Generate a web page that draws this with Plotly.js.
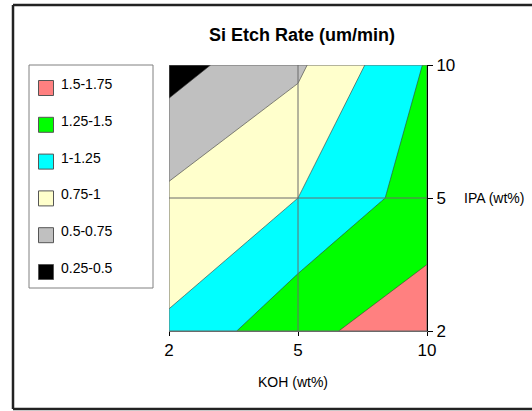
<!DOCTYPE html>
<html>
<head>
<meta charset="utf-8">
<script src="https://cdn.plot.ly/plotly-3.0.1.min.js"></script>
<style>
  html, body { margin: 0; padding: 0; background: #ffffff; overflow: hidden; }
  #chart { width: 532px; height: 411px; }
</style>
</head>
<body>
<div id="chart"></div>
<script>
// ---- data ----
const kohLabels = ['2', '5', '10'];          // KOH (wt%) categories
const ipaLabels = ['2', '5', '10'];          // IPA (wt%) categories
// etch rate (um/min): one row per IPA value, one column per KOH value
const rateIpa2  = [1.04, 1.44, 1.63];
const rateIpa5  = [0.80, 1.00, 1.37];
const rateIpa10 = [0.40, 0.71, 1.27];
// contour bands (legend order: highest first)
const bandLabels = ['1.5-1.75', '1.25-1.5', '1-1.25', '0.75-1', '0.5-0.75', '0.25-0.5'];
const bandColors = ['#ff8080', '#00ff00', '#00ffff', '#ffffcc', '#c0c0c0', '#000000'];
const levelStart = 0.25, levelEnd = 1.75, levelSize = 0.25;

// ---- layout geometry ----
const W = 532, H = 411;
const M = { l: 169, r: 105, t: 65, b: 80 };
const PW = W - M.l - M.r, PH = H - M.t - M.b;
const px2x = px => (px - M.l) / PW;
const py2y = py => (H - M.b - py) / PH;
const FONT = 'Liberation Sans, Arial, Helvetica, sans-serif';

// discrete colour scale, low band to high band
const lowToHigh = bandColors.slice().reverse();
const nb = lowToHigh.length;
const colorscale = [];
lowToHigh.forEach((c, k) => { colorscale.push([k / nb, c]); colorscale.push([(k + 1) / nb, c]); });

const contour = {
  type: 'contour',
  x: kohLabels,
  y: ipaLabels,
  z: [rateIpa2, rateIpa5, rateIpa10],
  autocontour: false,
  contours: { start: levelStart, end: levelEnd, size: levelSize, coloring: 'fill', showlines: true },
  line: { color: '#3a3a3a', width: 0.6, smoothing: 0 },
  colorscale: colorscale,
  zmin: levelStart, zmax: levelStart + levelSize * nb,
  showscale: false,
  hoverinfo: 'skip'
};

const shapes = [];
// outer chart frame: left, top and bottom sides (right side is off the picture)
const frame = [[13, 5, 532, 5], [13, 5, 13, 409], [13, 409, 532, 409]];
frame.forEach(f => shapes.push({ type: 'line', xref: 'paper', yref: 'paper',
  x0: px2x(f[0]), y0: py2y(f[1]), x1: px2x(f[2]), y1: py2y(f[3]),
  line: { color: '#222222', width: 2.5 }, layer: 'below' }));
// gridlines at every category, drawn over the filled contours
kohLabels.forEach((k, i) => shapes.push({ type: 'line', xref: 'x', yref: 'paper', x0: i, x1: i, y0: 0, y1: 1,
  line: { color: '#6a6a6a', width: 1 }, layer: 'above' }));
ipaLabels.forEach((v, j) => shapes.push({ type: 'line', xref: 'paper', yref: 'y', x0: 0, x1: 1, y0: j, y1: j,
  line: { color: '#6a6a6a', width: 1 }, layer: 'above' }));
// legend box
shapes.push({ type: 'rect', xref: 'paper', yref: 'paper',
  x0: px2x(29), x1: px2x(153), y0: py2y(288), y1: py2y(65),
  line: { color: '#808080', width: 1 }, fillcolor: '#ffffff', layer: 'above' });

const annotations = [];
const rowTop = 84, rowStep = 36.8, sq = 15;
bandLabels.forEach((lab, i) => {
  const cy = rowTop + rowStep * i;
  shapes.push({ type: 'rect', xref: 'paper', yref: 'paper',
    x0: px2x(38.5), x1: px2x(38.5 + sq), y0: py2y(cy + 4 + sq / 2), y1: py2y(cy + 4 - sq / 2),
    line: { color: '#555555', width: 1 }, fillcolor: bandColors[i], layer: 'above' });
  annotations.push({ xref: 'paper', yref: 'paper', x: px2x(59), y: py2y(cy),
    xanchor: 'left', yanchor: 'middle', showarrow: false, text: lab,
    font: { family: FONT, size: 14, color: '#000000' } });
});
// axis titles
annotations.push({ xref: 'paper', yref: 'paper', x: px2x(293), y: py2y(382),
  xanchor: 'center', yanchor: 'middle', showarrow: false, text: 'KOH (wt%)',
  font: { family: FONT, size: 14, color: '#000000' } });
annotations.push({ xref: 'paper', yref: 'paper', x: px2x(462), y: py2y(198),
  xanchor: 'left', yanchor: 'middle', showarrow: false, text: 'IPA (wt%)',
  font: { family: FONT, size: 14, color: '#000000' } });

const layout = {
  width: W, height: H,
  margin: M,
  paper_bgcolor: '#ffffff', plot_bgcolor: '#ffffff',
  showlegend: false,
  title: { text: 'Si Etch Rate (um/min)', x: px2x(302), xref: 'paper', xanchor: 'center',
    y: 1 - 35 / H, yref: 'container', yanchor: 'middle',
    font: { family: FONT, size: 18, weight: 700, color: '#000000' } },
  xaxis: { type: 'category', range: [0, kohLabels.length - 1], showgrid: false, zeroline: false,
    showline: true, linecolor: '#6a6a6a', linewidth: 1, ticks: 'outside', ticklen: 4, tickcolor: '#000000',
    tickfont: { family: FONT, size: 17, color: '#000000' }, fixedrange: true },
  yaxis: { type: 'category', side: 'right', range: [0, ipaLabels.length - 1], showgrid: false, zeroline: false,
    showline: true, linecolor: '#000000', linewidth: 1, ticks: 'outside', ticklen: 5, tickcolor: '#000000',
    tickfont: { family: FONT, size: 17, color: '#000000' }, layer: 'above traces', fixedrange: true },
  shapes: shapes,
  annotations: annotations
};

Plotly.newPlot('chart', [contour], layout, { staticPlot: true, displayModeBar: false });
</script>
</body>
</html>
